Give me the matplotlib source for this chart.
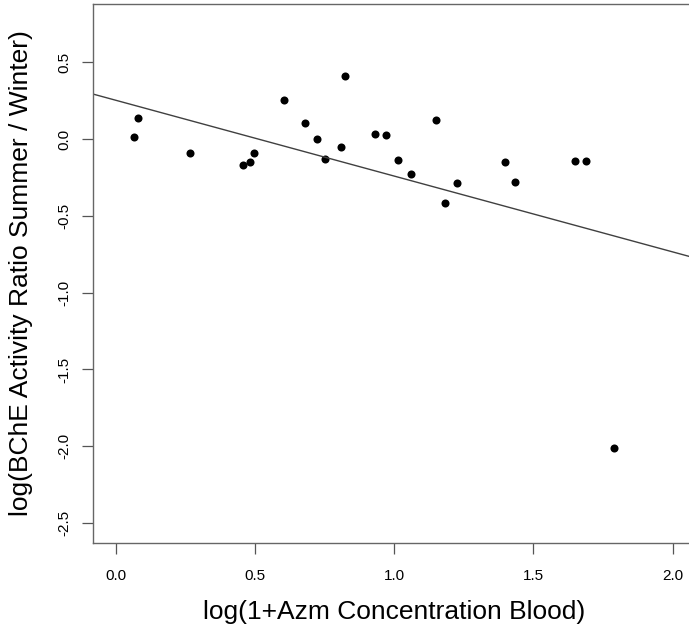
import numpy as np
import matplotlib.pyplot as plt

# values
azm_log = [0.066, 0.080, 0.268, 0.456, 0.482, 0.498, 0.604, 0.679, 0.724, 0.752,
           0.810, 0.824, 0.933, 0.971, 1.014, 1.062, 1.149, 1.182, 1.225, 1.399,
           1.435, 1.648, 1.687, 1.788]
bche_ratio_log = [0.013, 0.138, -0.089, -0.172, -0.148, -0.089, 0.256, 0.104, -0.003, -0.133,
                  -0.055, 0.407, 0.030, 0.025, -0.137, -0.229, 0.125, -0.419, -0.287, -0.148,
                  -0.280, -0.141, -0.146, -2.009]

# fitted line as drawn (abline)
fit_intercept = 0.2524
fit_slope = -0.4937

x_ticks = [0.0, 0.5, 1.0, 1.5, 2.0]
y_ticks = [-2.5, -2.0, -1.5, -1.0, -0.5, 0.0, 0.5]

plt.rcParams['font.family'] = ['Liberation Sans', 'DejaVu Sans']

fig = plt.figure(figsize=(6.89, 6.30), dpi=100)
ax = fig.add_axes([0.1354, 0.138, 0.8733, 0.856])

ax.plot(azm_log, bche_ratio_log, 'o', color='black', markersize=5.8, markeredgewidth=0)

line_x = np.array([-0.08, 2.08])
ax.plot(line_x, fit_intercept + fit_slope * line_x, color='#404040', linewidth=1.0)

ax.set_xlim(-0.08, 2.08)
ax.set_ylim(-2.63, 0.88)

ax.set_xticks(x_ticks)
ax.set_xticklabels([f'{v:.1f}' for v in x_ticks])
ax.set_yticks(y_ticks)
ax.set_yticklabels([f'{v:.1f}' for v in y_ticks], rotation=90, va='center')

ax.tick_params(axis='both', direction='out', length=8, width=0.9, color='#555555',
               labelsize=11)
ax.tick_params(axis='x', pad=11)
ax.tick_params(axis='y', pad=7.5)
for s in ax.spines.values():
    s.set_color('#666666')
    s.set_linewidth(1.0)

ax.set_xlabel('log(1+Azm Concentration Blood)', fontsize=19)
ax.set_ylabel('log(BChE Activity Ratio Summer / Winter)', fontsize=19)
ax.xaxis.set_label_coords(0.5, -0.106)
ax.yaxis.set_label_coords(-0.1, 0.5)

fig.savefig('out.png', dpi=100)
